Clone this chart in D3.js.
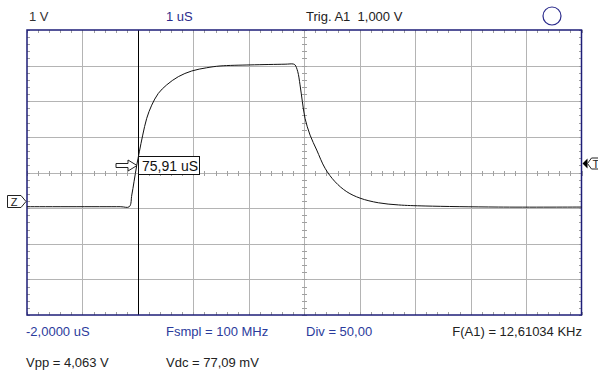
<!DOCTYPE html>
<html>
<head>
<meta charset="utf-8">
<script src="https://cdn.jsdelivr.net/npm/d3@7"></script>
<style>
  html, body { margin: 0; padding: 0; background: #fff; }
  svg { display: block; font-family: "Liberation Sans", Arial, sans-serif; }
  text { white-space: pre; }
</style>
</head>
<body>
<div id="scope"></div>
<script>
// trace samples: time in uS (1 uS/div), volts (1 V/div)
const traceT = [-2.0, -0.32, -0.155, -0.11, -0.07, -0.02, 0.026, 0.087, 0.159, 0.249, 0.368, 0.52, 0.729, 0.971, 1.241, 1.481, 2.022, 2.654, 2.803, 2.834, 2.883, 2.924, 2.966, 3.014, 3.105, 3.225, 3.375, 3.556, 3.767, 4.006, 4.337, 4.697, 5.179, 6.5, 8.0];
const traceV = [-0.16, -0.16, -0.16, 0.17, 0.54, 1.01, 1.38, 1.85, 2.32, 2.69, 3.02, 3.26, 3.49, 3.65, 3.74, 3.79, 3.82, 3.84, 3.845, 3.82, 3.63, 3.26, 2.79, 2.32, 1.85, 1.43, 0.92, 0.54, 0.26, 0.08, -0.05, -0.11, -0.14, -0.17, -0.17];

const timeDomain = [-2, 8];     // 10 divisions
const voltDomain = [-3.2, 4.8]; // 8 divisions, ground marker 0.8 div below centre
const cursorT = 0;
const triggerV = 1.0;

const headerLabels = [
    { text: "1 V", x: 29, color: "#333" },
    { text: "1 uS", x: 166, color: "#2b2b8c" },
    { text: "Trig. A1  1,000 V", x: 306, color: "#222" }
];
const footerLabels = [
    { text: "-2,0000 uS", x: 26, row: 0, color: "#2b3b9c", anchor: "start" },
    { text: "Fsmpl = 100 MHz", x: 166, row: 0, color: "#2b3b9c", anchor: "start" },
    { text: "Div = 50,00", x: 306, row: 0, color: "#2b3b9c", anchor: "start" },
    { text: "F(A1) = 12,61034 KHz", x: 582, row: 0, color: "#222", anchor: "end" },
    { text: "Vpp = 4,063 V", x: 26, row: 1, color: "#222", anchor: "start" },
    { text: "Vdc = 77,09 mV", x: 166, row: 1, color: "#222", anchor: "start" }
];
const cursorLabel = "75,91 uS";

const width = 598, height = 378;
const plot = { left: 27, right: 581.5, top: 30, bottom: 315 };
const gridColor = "#b4b4b4", frameColor = "#1e1e78";

const svg = d3.select("#scope").append("svg")
    .attr("width", width)
    .attr("height", height);

const x = d3.scaleLinear().domain(timeDomain).range([plot.left, plot.right]);
const y = d3.scaleLinear().domain(voltDomain).range([plot.bottom, plot.top]);

const majorT = d3.range(timeDomain[0], timeDomain[1] + 0.001, 1);
const majorV = d3.range(voltDomain[0], voltDomain[1] + 0.001, 1);
const minorT = d3.range(timeDomain[0], timeDomain[1] + 0.001, 0.2);
const minorV = d3.range(voltDomain[0], voltDomain[1] + 0.001, 0.2);
const midT = (timeDomain[0] + timeDomain[1]) / 2;
const midV = (voltDomain[0] + voltDomain[1]) / 2;

// grid
const grid = svg.append("g").attr("stroke", gridColor).attr("stroke-width", 1).attr("shape-rendering", "crispEdges");
grid.selectAll(".vline").data(majorT.slice(1, -1)).enter().append("line")
    .attr("x1", d => Math.round(x(d)) + 0.5).attr("x2", d => Math.round(x(d)) + 0.5)
    .attr("y1", plot.top).attr("y2", plot.bottom);
grid.selectAll(".hline").data(majorV.slice(1, -1)).enter().append("line")
    .attr("y1", d => Math.round(y(d)) + 0.5).attr("y2", d => Math.round(y(d)) + 0.5)
    .attr("x1", plot.left).attr("x2", plot.right);

// minor ticks on centre lines and frame edges
const ticks = svg.append("g").attr("stroke", "#a0a0a0").attr("stroke-width", 1).attr("shape-rendering", "crispEdges");
ticks.selectAll(".tc").data(minorT).enter().append("line")
    .attr("x1", d => Math.round(x(d)) + 0.5).attr("x2", d => Math.round(x(d)) + 0.5)
    .attr("y1", Math.round(y(midV)) - 2).attr("y2", Math.round(y(midV)) + 3);
ticks.selectAll(".tt").data(minorT).enter().append("line")
    .attr("x1", d => Math.round(x(d)) + 0.5).attr("x2", d => Math.round(x(d)) + 0.5)
    .attr("y1", plot.top).attr("y2", plot.top + 3);
ticks.selectAll(".tb").data(minorT).enter().append("line")
    .attr("x1", d => Math.round(x(d)) + 0.5).attr("x2", d => Math.round(x(d)) + 0.5)
    .attr("y1", plot.bottom - 3).attr("y2", plot.bottom);
ticks.selectAll(".vc").data(minorV).enter().append("line")
    .attr("y1", d => Math.round(y(d)) + 0.5).attr("y2", d => Math.round(y(d)) + 0.5)
    .attr("x1", Math.round(x(midT)) - 2).attr("x2", Math.round(x(midT)) + 3);
ticks.selectAll(".vl").data(minorV).enter().append("line")
    .attr("y1", d => Math.round(y(d)) + 0.5).attr("y2", d => Math.round(y(d)) + 0.5)
    .attr("x1", plot.left).attr("x2", plot.left + 3);
ticks.selectAll(".vr").data(minorV).enter().append("line")
    .attr("y1", d => Math.round(y(d)) + 0.5).attr("y2", d => Math.round(y(d)) + 0.5)
    .attr("x1", plot.right - 3).attr("x2", plot.right);

// cursor
svg.append("line")
    .attr("x1", Math.round(x(cursorT)) + 0.5).attr("x2", Math.round(x(cursorT)) + 0.5)
    .attr("y1", plot.top).attr("y2", plot.bottom)
    .attr("stroke", "#000").attr("shape-rendering", "crispEdges");

// frame
svg.append("rect")
    .attr("x", plot.left).attr("y", plot.top)
    .attr("width", plot.right - plot.left).attr("height", plot.bottom - plot.top)
    .attr("fill", "none").attr("stroke", frameColor).attr("stroke-width", 1.5);

// trace
const trace = traceT.map((t, i) => [t, traceV[i]]);
svg.append("path")
    .datum(trace)
    .attr("d", d3.line().x(d => x(d[0])).y(d => y(d[1])).curve(d3.curveCatmullRom.alpha(0.5)))
    .attr("fill", "none").attr("stroke", "#111").attr("stroke-width", 1);

// ground marker "Z"
const gy = Math.round(y(0)) + 0.5;
svg.append("path")
    .attr("d", `M7.5,${gy - 6}H21L26,${gy}L21,${gy + 6}H7.5Z`)
    .attr("fill", "#fff").attr("stroke", "#222");
svg.append("text").attr("x", 14).attr("y", gy + 4)
    .attr("text-anchor", "middle").attr("font-size", 11).attr("fill", "#222").text("Z");

// trigger marker "T"
const ty = Math.round(y(triggerV)) - 1.5;
svg.append("path")
    .attr("d", `M${plot.right + 1},${ty}L${plot.right + 6},${ty - 5}V${ty + 5}Z`)
    .attr("fill", "#000");
svg.append("path")
    .attr("d", `M${plot.right + 6},${ty}L${plot.right + 10},${ty - 5.5}H600V${ty + 5.5}H${plot.right + 10}Z`)
    .attr("fill", "#fff").attr("stroke", "#222");
svg.append("text").attr("x", plot.right + 11).attr("y", ty + 4)
    .attr("font-size", 11).attr("fill", "#222").text("T");

// cursor readout
const cy = 165.5, cx = Math.round(x(cursorT));
svg.append("path")
    .attr("d", `M${cx - 22},${cy - 2}H${cx - 10}V${cy - 5.5}L${cx - 1},${cy}L${cx - 10},${cy + 5.5}V${cy + 2}H${cx - 22}Z`)
    .attr("fill", "#fff").attr("stroke", "#222");
svg.append("rect")
    .attr("x", cx + 0.5).attr("y", 156.5).attr("width", 61).attr("height", 18)
    .attr("fill", "#fff").attr("stroke", "#111");
svg.append("text").attr("x", cx + 4).attr("y", 170.5)
    .attr("font-size", 14).attr("fill", "#111").text(cursorLabel);

// header
svg.selectAll(".hdr").data(headerLabels).enter().append("text")
    .attr("x", d => d.x).attr("y", 21)
    .attr("font-size", 13).attr("fill", d => d.color).text(d => d.text);
svg.append("circle").attr("cx", 552).attr("cy", 16).attr("r", 9)
    .attr("fill", "none").attr("stroke", "#2b2b8c").attr("stroke-width", 1.2);

// footer
svg.selectAll(".ftr").data(footerLabels).enter().append("text")
    .attr("x", d => d.x).attr("y", d => 336 + d.row * 31)
    .attr("text-anchor", d => d.anchor)
    .attr("font-size", 13).attr("fill", d => d.color).text(d => d.text);
</script>
</body>
</html>
